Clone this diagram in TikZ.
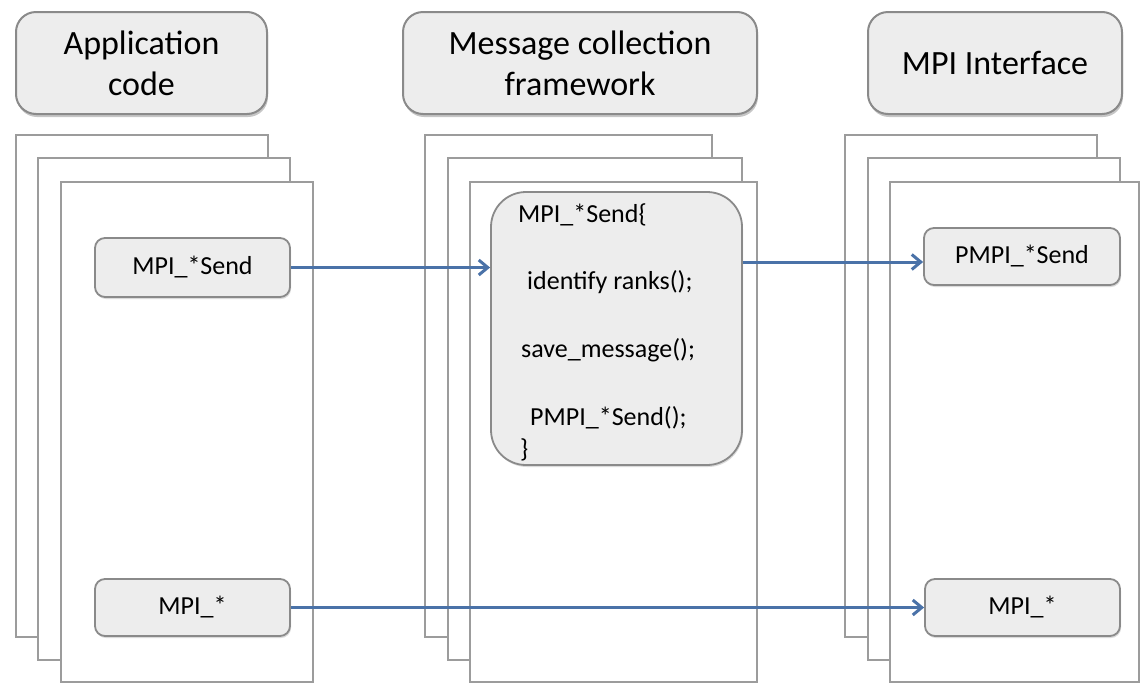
\documentclass[tikz,border=0pt]{standalone}
\usepackage{fontspec}
\setmainfont{Carlito}
\usetikzlibrary{arrows.meta,shadows}
\definecolor{boxfill}{HTML}{EDEDED}
\definecolor{boxline}{HTML}{8A8A8A}
\definecolor{pageline}{HTML}{9C9C9C}
\definecolor{flowblue}{HTML}{4A72A8}
\begin{document}
\begin{tikzpicture}[x=1pt,y=-1pt,
  header/.style={draw=boxline, line width=2pt, fill=boxfill, rounded corners=20pt,
    drop shadow={shadow xshift=1pt, shadow yshift=-3pt, fill=black!50, opacity=0.45},
    align=center, inner sep=0pt, font=\fontsize{34}{41}\selectfont},
  page/.style={draw=pageline, line width=1.8pt, fill=white},
  call/.style={draw=boxline, line width=1.8pt, fill=boxfill, rounded corners=10pt,
    drop shadow={shadow xshift=1pt, shadow yshift=-2pt, fill=black!40, opacity=0.35},
    inner sep=0pt, font=\fontsize{26}{30}\selectfont},
  codeline/.style={anchor=west, inner sep=0pt, font=\fontsize{26}{30}\selectfont},
  flow/.style={draw=flowblue, line width=3pt, -{Straight Barb[length=9pt,width=15pt]}}]

\useasboundingbox (0,0) rectangle (1141,686);

% column headers
\node[header, minimum width=251pt, minimum height=102pt] (happ) at (141.5,63) {Application\\code};
\node[header, minimum width=354pt, minimum height=102pt] (hmsg) at (580,63) {Message collection\\framework};
\node[header, minimum width=254pt, minimum height=102pt] (hmpi) at (995,63) {MPI Interface};

% stacked process pages: application code
\draw[page] (16,135) rectangle (268,637);
\draw[page] (38,158) rectangle (290,660);
\draw[page] (61,182) rectangle (313,682);

% stacked process pages: message collection framework
\draw[page] (425,135) rectangle (712,637);
\draw[page] (448,158) rectangle (742,660);
\draw[page] (470,182) rectangle (757,682);

% stacked process pages: MPI interface
\draw[page] (845,135) rectangle (1097,637);
\draw[page] (868,158) rectangle (1120,660);
\draw[page] (890,182) rectangle (1139,682);

% calls
\node[call, minimum width=195pt, minimum height=59pt] (mpisend) at (192.5,267.5) {MPI\_*Send};
\node[call, minimum width=195pt, minimum height=57pt] (mpiany) at (192.5,607.5) {MPI\_*};
\node[call, minimum width=196pt, minimum height=57pt] (pmpisend) at (1022,256.5) {PMPI\_*Send};
\node[call, minimum width=195pt, minimum height=57pt] (mpiright) at (1022.5,607.5) {MPI\_*};

% wrapper body
\node[call, rounded corners=35pt, minimum width=251pt, minimum height=273pt] (wrap) at (616.5,328.5) {};
\node[codeline] (c1) at (518,215) {MPI\_*Send\{};
\node[codeline] (c2) at (527,282) {identify ranks();};
\node[codeline] (c3) at (521,350) {save\_message();};
\node[codeline] (c4) at (530,418) {PMPI\_*Send();};
\node[codeline] (c5) at (520,450) {\}};

% message flow
\draw[flow] (mpisend.east) -- (mpisend.east -| wrap.west);
\draw[flow] ([yshift=-5.5pt]pmpisend.west -| wrap.east) -- ([yshift=-5.5pt]pmpisend.west);
\draw[flow] (mpiany.east) -- (mpiright.west);
\end{tikzpicture}
\end{document}
